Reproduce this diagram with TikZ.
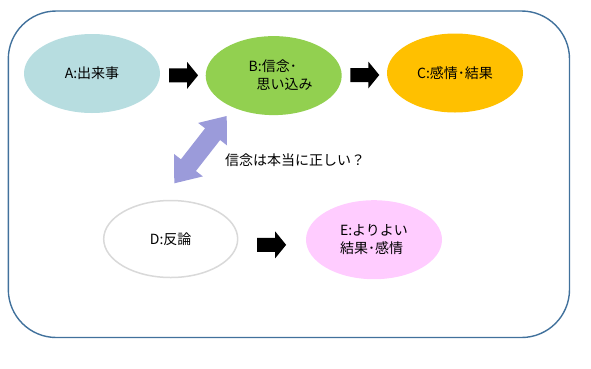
\documentclass[tikz,border=0pt]{standalone}
\usepackage{fontspec}
\setmainfont{Noto Sans CJK JP}
\usetikzlibrary{shapes.geometric,calc}
\definecolor{frameblue}{HTML}{41719C}
\definecolor{ablue}{HTML}{B7DDE0}
\definecolor{bgreen}{HTML}{92D050}
\definecolor{corange}{HTML}{FFC000}
\definecolor{dgray}{HTML}{D9D9D9}
\definecolor{epink}{HTML}{FFCCFF}
\definecolor{arrpurple}{HTML}{9B9BDA}
\tikzset{
  bubble/.style={ellipse, minimum width=136pt, minimum height=79pt, inner sep=0pt,
    font=\fontsize{14}{18}\selectfont, align=left},
  lbl/.style={font=\fontsize{14}{18}\selectfont, inner sep=0pt},
  blockarrow/.pic={\fill[black] (-14.5,-7) -- (3.5,-7) -- (3.5,-13.5) -- (14.5,0) -- (3.5,13.5) -- (3.5,7) -- (-14.5,7) -- cycle;}
}
\begin{document}
\begin{tikzpicture}[x=1pt,y=-1pt]
\useasboundingbox (0,0) rectangle (591,368);
\draw[frameblue, line width=1.4pt, rounded corners=48pt] (8.3,11) rectangle (569.5,337.5);

\node[bubble, fill=ablue] (A) at (92,73.5) {A:出来事};
\node[bubble, fill=bgreen] (B) at (273.7,75.6) {\hspace*{14pt}B:信念･\\\hspace*{22pt}思い込み};
\node[bubble, fill=corange] (C) at (455,73) {C:感情･結果};
\node[bubble, fill=white, draw=dgray, line width=1.5pt, minimum width=134pt, minimum height=77pt] (D) at (170.7,239) {D:反論};
\node[bubble, fill=epink] (E) at (374,239.7) {E:よりよい\\結果･感情};

\pic at ($(A.east)!0.5!(B.west)+(0.7,0.8)$) {blockarrow};
\pic at ($(B.east)!0.5!(C.west)+(0.4,0.7)$) {blockarrow};
\pic at ($(D.east)!0.5!(E.west)+(-0.5,5.5)$) {blockarrow};

\fill[arrpurple] (226.7,116) -- (227.0,145.4) -- (220.1,140.0) -- (195.9,171.0)
  -- (202.9,176.4) -- (174.3,183.3) -- (174.0,153.9) -- (180.9,159.3)
  -- (205.1,128.3) -- (198.1,122.9) -- cycle;

\node[lbl, anchor=west] (Q) at (225,160) {信念は本当に正しい？};
\end{tikzpicture}
\end{document}
